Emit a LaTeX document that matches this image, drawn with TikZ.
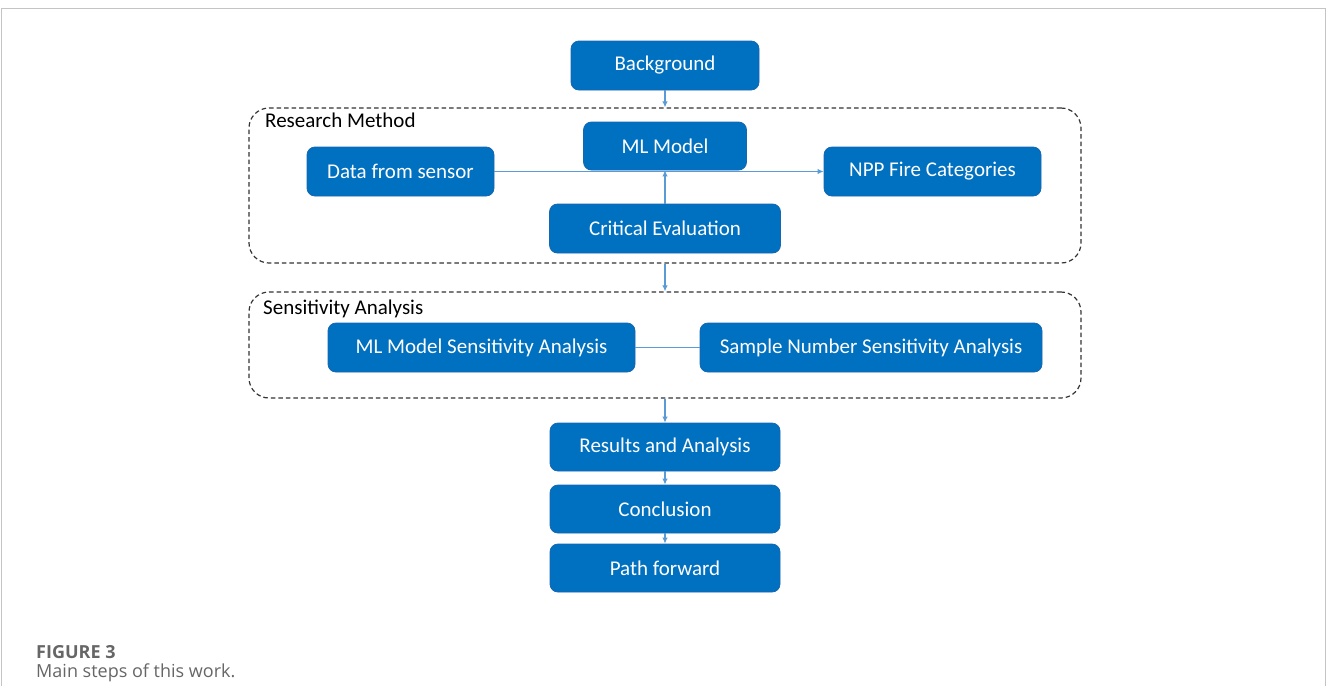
\documentclass[tikz,border=0pt]{standalone}
\usepackage{fontspec}
\setmainfont{Carlito}
\newfontfamily\capfont{Open Sans}
\usetikzlibrary{arrows.meta}
\definecolor{boxblue}{HTML}{0070C0}
\definecolor{boxedge}{HTML}{1767B0}
\definecolor{linkblue}{HTML}{5B9BD5}
\definecolor{framegray}{HTML}{C4C4C4}
\definecolor{capgray}{HTML}{666666}
\tikzset{
  stepbox/.style={draw=boxedge, line width=0.8pt, fill=boxblue, rounded corners=8pt, text=white,
    inner sep=0pt, minimum height=49pt, font=\fontsize{21}{25}\selectfont},
  groupbox/.style={draw=black!80, line width=1.2pt, dash pattern=on 4.5pt off 3pt, rounded corners=20pt,
    inner sep=0pt},
  grouplabel/.style={anchor=north west, inner sep=0pt, text=black, font=\fontsize{21}{25}\selectfont},
  link/.style={draw=linkblue, line width=1.1pt},
  arr/.style={link, -{Latex[length=6pt,width=5.5pt]}},
}
\begin{document}
\begin{tikzpicture}[x=1pt,y=-1pt]
\useasboundingbox (0,0) rectangle (1327,686);
% outer frame
\draw[framegray, line width=1.2pt] (1.5,686) -- (1.5,8.5) -- (1325.5,8.5) -- (1325.5,686);

% group boxes
\node[groupbox, minimum width=832pt, minimum height=155pt] (rm) at (665,185.5) {};
\node[grouplabel] (rml) at (265,113) {Research Method};
\node[groupbox, minimum width=832pt, minimum height=106pt] (sa) at (665,345) {};
\node[grouplabel] (sal) at (263,300) {Sensitivity Analysis};

% steps
\node[stepbox, minimum width=188pt] (bg) at (665,65.5) {Background};
\node[stepbox, minimum width=163pt, minimum height=48pt] (ml) at (665,146) {ML Model};
\node[stepbox, minimum width=187pt] (ds) at (400.5,171.5) {Data from sensor};
\node[stepbox, minimum width=217pt] (npp) at (932.5,171.5) {NPP Fire Categories};
\node[stepbox, minimum width=231pt] (ce) at (665,228.5) {Critical Evaluation};
\node[stepbox, minimum width=307pt] (mlsa) at (481.5,347.5) {ML Model Sensitivity Analysis};
\node[stepbox, minimum width=342pt] (snsa) at (871,347.5) {Sample Number Sensitivity Analysis};
\node[stepbox, minimum width=230pt, minimum height=48pt] (res) at (665,447) {Results and Analysis};
\node[stepbox, minimum width=230pt, minimum height=48pt] (con) at (665,509) {Conclusion};
\node[stepbox, minimum width=230pt, minimum height=48pt] (pf) at (665,568) {Path forward};

% connectors
\draw[arr] (bg.south) -- (rm.north);
\draw[arr] (ds.east) -- (npp.west);
\draw[arr] (ce.north) -- (ml.south);
\draw[arr] (rm.south) -- (sa.north);
\draw[link] (mlsa.east) -- (snsa.west);
\draw[arr] (sa.south) -- (res.north);
\draw[arr] (res.south) -- (con.north);
\draw[arr] (con.south) -- (pf.north);

% caption
\node[anchor=base west, inner sep=0pt, text=capgray, font=\capfont\bfseries\fontsize{18}{21}\selectfont] (cap1) at (36,658) {FIGURE 3};
\node[anchor=base west, inner sep=0pt, text=capgray, font=\capfont\fontsize{18}{21}\selectfont] (cap2) at (36,677) {Main steps of this work.};
\end{tikzpicture}
\end{document}
